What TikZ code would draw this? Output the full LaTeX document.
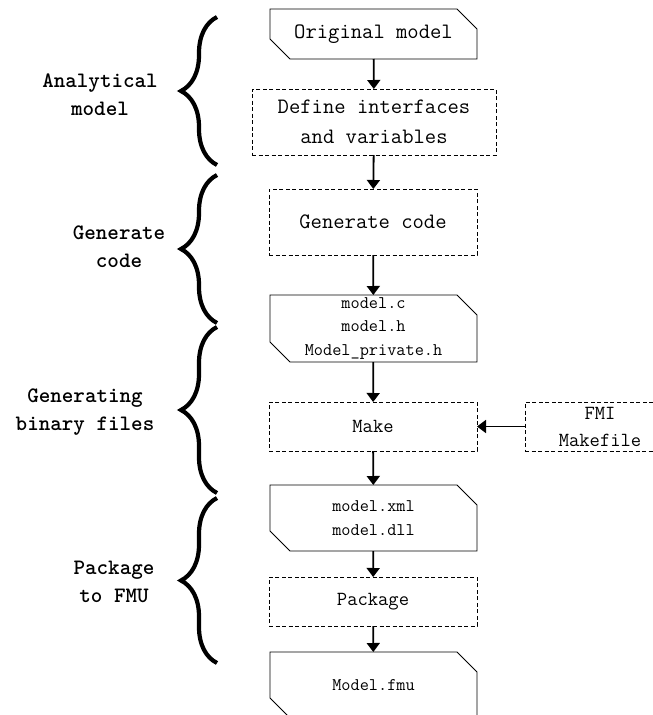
\documentclass[tikz,border=0pt]{standalone}
\usetikzlibrary{arrows.meta,decorations.pathreplacing,calc}
\newcommand\bigtxt{\fontsize{22}{30}\selectfont\ttfamily}
\newcommand\midtxt{\fontsize{20}{27}\selectfont\ttfamily}
\newcommand\smltxt{\fontsize{17.8}{23.5}\selectfont\ttfamily}
\tikzset{
  base/.style={inner sep=0pt, outer sep=0pt, align=center},
  dbox/.style={base, draw, dash pattern=on 4pt off 2.5pt, line width=0.9pt},
  docbox/.style={base},
  docline/.style={line width=0.9pt},
  arr/.style={line width=1.8pt, -{Triangle[width=13pt,length=9pt]}},
  brc/.style={decorate, decoration={brace, amplitude=36pt}, line width=4.2pt},
  lbl/.style={base, font=\fontsize{22}{28}\selectfont\ttfamily\bfseries},
}
\newcommand\docpath[1]{%
  \draw[docline] (#1.north west) -- ($(#1.north east)+(-20,0)$) -- ($(#1.north east)+(0,20)$)
    -- (#1.south east) -- ($(#1.south west)+(20,0)$) -- ($(#1.south west)+(0,-20)$) -- cycle;}
\begin{document}
\begin{tikzpicture}[x=1pt,y=-1pt]
\useasboundingbox (0,0) rectangle (653,715);
\clip (0,0) rectangle (653,715);

% boxes
\node[docbox, minimum width=207pt, minimum height=50pt, font=\bigtxt] (orig) at (373.5,34) {Original model};
\docpath{orig}
\node[dbox, minimum width=244pt, minimum height=66pt, font=\bigtxt] (def) at (374,122) {Define interfaces\\and variables};
\node[dbox, minimum width=208pt, minimum height=66pt, font=\bigtxt] (gen) at (373,222) {Generate code};
\node[docbox, minimum width=207pt, minimum height=67pt, font=\smltxt] (mc) at (373.5,328.5) {model.c\\model.h\\Model\_private.h};
\docpath{mc}
\node[dbox, minimum width=208pt, minimum height=49pt, font=\midtxt] (make) at (373,426.5) {Make};
\node[dbox, minimum width=150pt, minimum height=49pt, font=\midtxt] (fmi) at (600,426.5) {FMI\\Makefile};
\node[docbox, minimum width=207pt, minimum height=66pt, font=\smltxt] (xml) at (373.5,518) {model.xml\\model.dll};
\docpath{xml}
\node[dbox, minimum width=208pt, minimum height=49pt, font=\midtxt] (pkg) at (373,601.5) {Package};
\node[docbox, minimum width=207pt, minimum height=66pt, font=\smltxt] (fmu) at (373.5,685) {Model.fmu};
\docpath{fmu}

% arrows
\draw[arr] (orig) -- (def);
\draw[arr] (def) -- (gen);
\draw[arr] (gen) -- (mc);
\draw[arr] (mc) -- (make);
\draw[arr] (make) -- (xml);
\draw[arr] (xml) -- (pkg);
\draw[arr] (pkg) -- (fmu);
\draw[arr] (fmi) -- (make);

% braces
\coordinate (b1t) at (217,17);  \coordinate (b1b) at (217,165);
\coordinate (b2t) at (217,175); \coordinate (b2b) at (217,323);
\coordinate (b3t) at (217,327); \coordinate (b3b) at (217,493);
\coordinate (b4t) at (217,498); \coordinate (b4b) at (217,663);
\draw[brc] (b1b) -- (b1t);
\draw[brc] (b2b) -- (b2t);
\draw[brc] (b3b) -- (b3t);
\draw[brc] (b4b) -- (b4t);

% labels
\node[lbl] (l1) at (100,95) {Analytical\\model};
\node[lbl] (l2) at (119,247) {Generate\\code};
\node[lbl] (l3) at (85,412) {Generating\\binary files};
\node[lbl] (l4) at (114,582) {Package\\to FMU};
\end{tikzpicture}
\end{document}
